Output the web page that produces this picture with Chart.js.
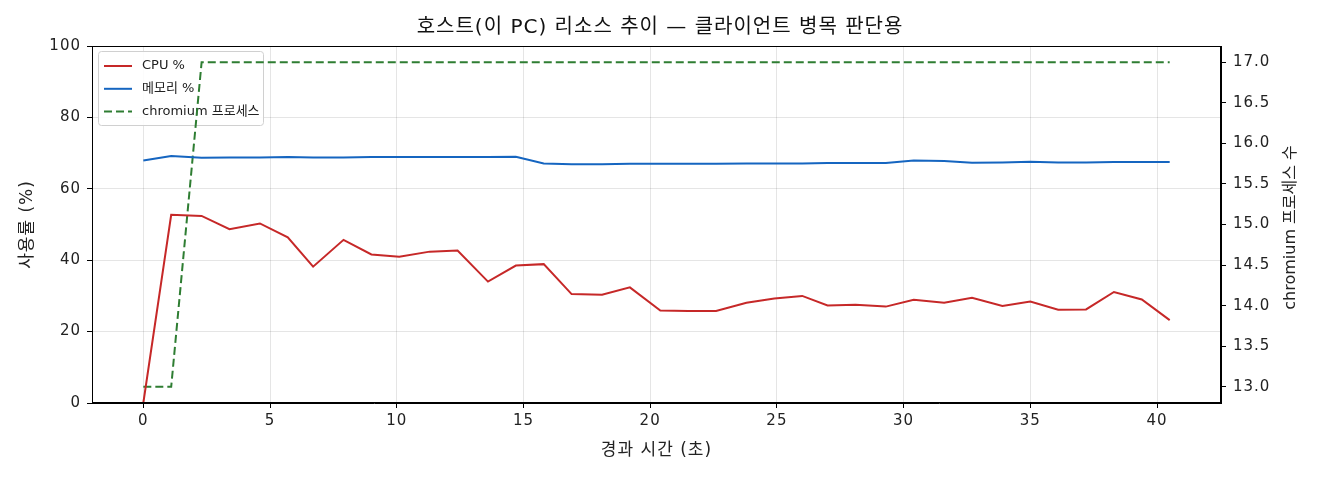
<!DOCTYPE html>
<html>
<head>
<meta charset="utf-8">
<script src="https://cdn.jsdelivr.net/npm/chart.js@4"></script>
<style>
  html, body { margin: 0; padding: 0; background: #fff; }
  #wrap { width: 1320px; height: 480px; }
</style>
</head>
<body>
<div id="wrap"><canvas id="hostChart" width="1320" height="480"></canvas></div>
<script>
// 경과 시간 (초)
const times = [0, 1.1, 2.3, 3.4, 4.6, 5.7, 6.7, 7.9, 9.0, 10.1, 11.3, 12.4, 13.6, 14.7, 15.8, 16.9, 18.1, 19.2,
  20.4, 21.5, 22.6, 23.8, 24.9, 26.0, 27.0, 28.1, 29.3, 30.4, 31.6, 32.7, 33.9, 35.0, 36.1, 37.2, 38.3, 39.4, 40.5];
const cpuValues = [0, 52.7, 52.4, 48.7, 50.3, 46.4, 38.2, 45.7, 41.6, 41.0, 42.4, 42.7, 34.0, 38.5, 38.9, 30.5, 30.3, 32.4,
  25.9, 25.8, 25.8, 28.1, 29.3, 30.0, 27.3, 27.5, 27.0, 28.9, 28.1, 29.5, 27.2, 28.4, 26.1, 26.2, 31.1, 29.0, 23.2];
const memValues = [67.9, 69.2, 68.7, 68.8, 68.8, 68.9, 68.8, 68.8, 68.9, 68.9, 68.9, 68.9, 68.9, 69.0, 67.1, 66.9, 66.9, 67.0,
  67.0, 67.0, 67.0, 67.1, 67.1, 67.1, 67.2, 67.2, 67.2, 67.9, 67.8, 67.3, 67.4, 67.6, 67.4, 67.4, 67.5, 67.5, 67.5];
const chromiumCounts = [13, 13, 17, 17, 17, 17, 17, 17, 17, 17, 17, 17, 17, 17, 17, 17, 17, 17,
  17, 17, 17, 17, 17, 17, 17, 17, 17, 17, 17, 17, 17, 17, 17, 17, 17, 17, 17];

const xTicks = [0, 5, 10, 15, 20, 25, 30, 35, 40];
const leftTicks = [0, 20, 40, 60, 80, 100];
const rightTicks = [13.0, 13.5, 14.0, 14.5, 15.0, 15.5, 16.0, 16.5, 17.0];

const FONT = '"DejaVu Sans", "Noto Sans CJK KR", sans-serif';

function pairs(ys) {
  return times.map((t, i) => ({ x: t, y: ys[i] }));
}

// 범례(격자 위, 선 아래) + 테두리 + 오른쪽 축 제목(아래→위)
const framePlugin = {
  id: 'frame',
  beforeDraw(chart) {
    chart.ctx.letterSpacing = '1px';
  },
  beforeDatasetsDraw(chart) {
    const { ctx, chartArea: a } = chart;
    ctx.save();
    ctx.letterSpacing = '0px';
    const bx = a.left + 6, by = a.top + 5, bw = 165, bh = 74;
    ctx.fillStyle = 'rgba(255,255,255,0.85)';
    ctx.strokeStyle = '#d0d0d0';
    ctx.lineWidth = 1;
    ctx.beginPath();
    ctx.roundRect(bx + 0.5, by + 0.5, bw, bh, 3);
    ctx.fill();
    ctx.stroke();
    ctx.font = '13px ' + FONT;
    ctx.textBaseline = 'middle';
    chart.data.datasets.forEach((ds, i) => {
      const y = by + 15 + i * 22.8;
      ctx.strokeStyle = ds.borderColor;
      ctx.lineWidth = 2;
      ctx.setLineDash(ds.borderDash || []);
      ctx.beginPath();
      ctx.moveTo(bx + 6, y);
      ctx.lineTo(bx + 34, y);
      ctx.stroke();
      ctx.setLineDash([]);
      ctx.fillStyle = '#222';
      ctx.fillText(ds.label, bx + 44, y);
    });
    ctx.restore();
  },
  afterDraw(chart) {
    const { ctx, chartArea: a } = chart;
    ctx.save();
    ctx.letterSpacing = '0px';
    ctx.strokeStyle = '#000';
    ctx.lineWidth = 1;
    ctx.strokeRect(a.left + 0.5, a.top + 0.5, a.right - a.left - 1, a.bottom - a.top - 1);

    ctx.translate(1291, (a.top + a.bottom) / 2 + 3);
    ctx.rotate(-Math.PI / 2);
    ctx.textAlign = 'center';
    ctx.textBaseline = 'middle';
    ctx.fillStyle = '#222';
    ctx.font = '16px ' + FONT;
    ctx.fillText('chromium 프로세스 수', 0, 0);
    ctx.restore();
  }
};

const gridColor = 'rgba(0,0,0,0.1)';

const ctx = document.getElementById('hostChart').getContext('2d');
const hostChart = new Chart(ctx, {
  type: 'line',
  data: {
    datasets: [
      { label: 'CPU %', data: pairs(cpuValues), borderColor: '#c62828', borderWidth: 2, yAxisID: 'y' },
      { label: '메모리 %', data: pairs(memValues), borderColor: '#1565c0', borderWidth: 2, yAxisID: 'y' },
      { label: 'chromium 프로세스', data: pairs(chromiumCounts), borderColor: '#2e7d32', borderWidth: 2,
        borderDash: [8, 4], yAxisID: 'y1' }
    ]
  },
  options: {
    responsive: false,
    animation: false,
    events: [],
    elements: { point: { radius: 0 }, line: { tension: 0, fill: false } },
    layout: { padding: 0 },
    plugins: {
      legend: { display: false },
      tooltip: { enabled: false },
      title: {
        display: true,
        text: '호스트(이 PC) 리소스 추이 — 클라이언트 병목 판단용',
        color: '#111',
        font: { family: FONT, size: 20, weight: 'normal' },
        padding: { top: 16, bottom: 6 }
      }
    },
    scales: {
      x: {
        type: 'linear',
        min: -2.025,
        max: 42.525,
        afterBuildTicks: s => { s.ticks = xTicks.map(v => ({ value: v })); },
        afterFit: s => { s.height = 77; },
        ticks: { color: '#222', font: { family: FONT, size: 15 }, padding: 4, maxRotation: 0 },
        grid: { color: gridColor, tickColor: '#000', tickLength: 5 },
        border: { color: '#000', width: 1 },
        title: { display: true, text: '경과 시간 (초)', color: '#222', font: { family: FONT, size: 17 },
          padding: { top: 0, bottom: 19 } }
      },
      y: {
        position: 'left',
        min: 0,
        max: 100,
        afterBuildTicks: s => { s.ticks = leftTicks.map(v => ({ value: v })); },
        afterFit: s => { s.width = 92; },
        ticks: { color: '#222', font: { family: FONT, size: 15 }, padding: 6 },
        grid: { color: gridColor, tickColor: '#000', tickLength: 5 },
        border: { color: '#000', width: 1 },
        title: { display: true, text: '사용률 (%)', color: '#222', font: { family: FONT, size: 17 },
          padding: { top: 17, bottom: 0 } }
      },
      y1: {
        position: 'right',
        min: 12.8,
        max: 17.2,
        afterBuildTicks: s => { s.ticks = rightTicks.map(v => ({ value: v })); },
        afterFit: s => { s.width = 99; },
        ticks: { color: '#222', font: { family: FONT, size: 15 }, padding: 7,
          callback: v => Number(v).toFixed(1) },
        grid: { drawOnChartArea: false, tickColor: '#000', tickLength: 5 },
        border: { color: '#000', width: 1 }
      }
    }
  },
  plugins: [framePlugin]
});
</script>
</body>
</html>
